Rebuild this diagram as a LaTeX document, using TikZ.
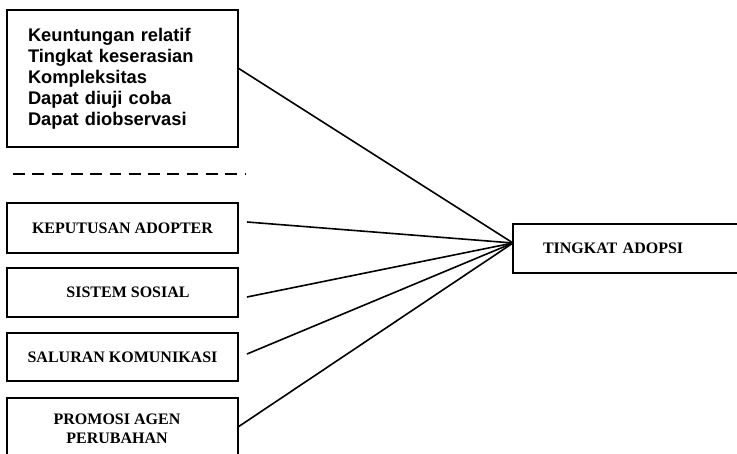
\documentclass[tikz,border=0pt]{standalone}
\usepackage{fontspec}
\setmainfont{Liberation Serif}
\newfontfamily\arialfont{Liberation Sans}
\begin{document}
\begin{tikzpicture}[x=1pt,y=-1pt,
  frame/.style={draw,line width=1.8pt,inner ysep=0pt},
  box/.style={frame,inner xsep=0pt,minimum width=231pt,minimum height=50pt,
    font=\fontsize{16}{19}\selectfont\bfseries,align=center},
  conn/.style={line width=1.6pt}]
\useasboundingbox (0,0) rectangle (737,453);
% attribute box
\node[frame,inner xsep=21pt,text width=189pt,minimum height=137pt,align=left,
  font=\arialfont\bfseries\fontsize{18.3}{21}\selectfont] (f) at (122.5,78.5)
  {Keuntungan relatif\\Tingkat keserasian\\Kompleksitas\\Dapat diuji coba\\Dapat diobservasi};
% dashed separator
\coordinate (d1) at (13,174);
\coordinate (d2) at (245,174);
\draw[line width=2pt,dash pattern=on 11.7pt off 7.6pt] (d1) -- (d2);
% lower boxes
\node[box] (k) at (122.5,228) {KEPUTUSAN ADOPTER};
\node[box,minimum height=49pt] (s) at (122.5,292.5) {\hspace*{11pt}SISTEM SOSIAL};
\node[box,minimum height=48pt] (l) at (122.5,357) {SALURAN KOMUNIKASI};
\node[box,minimum height=62pt] (p) at (122.5,429) {\hspace*{-11pt}PROMOSI AGEN\\\hspace*{-11pt}PERUBAHAN};
% target box
\node[frame,inner xsep=30pt,text width=172pt,minimum height=49pt,align=left,
  font=\fontsize{16}{19}\selectfont\bfseries] (t) at (629,248.5) {TINGKAT ADOPSI};
% connector points
\coordinate (c) at (513,243);
\coordinate (s1) at (238,68);
\coordinate (s2) at (247,222);
\coordinate (s3) at (247,297);
\coordinate (s4) at (247,354);
\coordinate (s5) at (238,427);
\foreach \i in {1,...,5} \draw[conn] (s\i) -- (c);
\end{tikzpicture}
\end{document}
